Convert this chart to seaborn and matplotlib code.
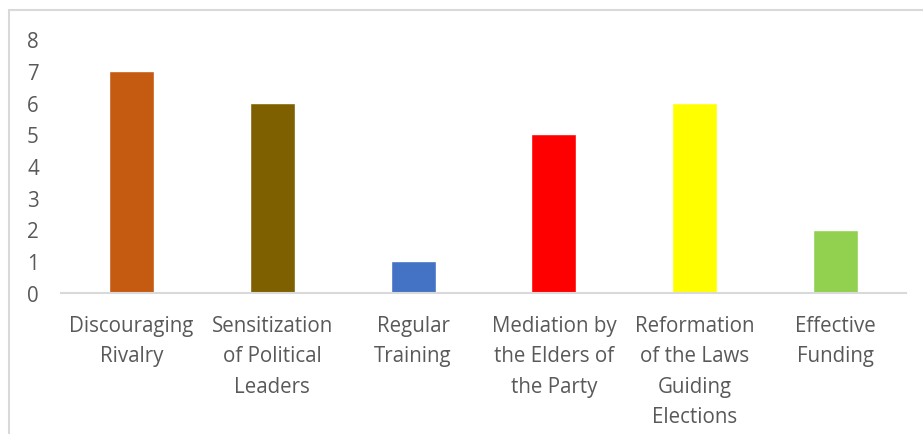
import matplotlib
matplotlib.use("Agg")
import matplotlib.pyplot as plt
import seaborn as sns
import pandas as pd
from matplotlib.patches import Rectangle

categories = ["Discouraging\nRivalry", "Sensitization\nof Political\nLeaders", "Regular\nTraining",
              "Mediation by\nthe Elders of\nthe Party", "Reformation\nof the Laws\nGuiding\nElections",
              "Effective\nFunding"]
values = [7, 6, 1, 5, 6, 2]
colors = ["#C55A11", "#7F6000", "#4472C4", "#FF0000", "#FFFF00", "#92D050"]
yticks = [0, 1, 2, 3, 4, 5, 6, 7, 8]

sns.set_style("white")
plt.rcParams['font.family'] = ['Open Sans', 'DejaVu Sans']

df = pd.DataFrame({"cat": categories, "val": values})
fig = plt.figure(figsize=(9.23, 4.35), dpi=100)
ax = fig.add_axes([61/923, 1-294/435, (906-61)/923, (294-40)/435])
sns.barplot(data=df, x="cat", y="val", hue="cat", palette=colors, width=0.32,
            legend=False, ax=ax, saturation=1)
ax.set_ylim(0, 8)
ax.set_xlim(-0.5, len(categories)-0.5)
ax.set_yticks(yticks)
ax.set_xlabel("")
ax.set_ylabel("")
for s in ["top", "right", "left"]:
    ax.spines[s].set_visible(False)
ax.spines["bottom"].set_color("#D9D9D9")
ax.spines["bottom"].set_linewidth(1.5)
ax.tick_params(axis="both", length=0, colors="#595959", labelsize=14.8)
ax.tick_params(axis="y", pad=16)
ax.tick_params(axis="x", pad=15.5)
for lab in ax.get_xticklabels():
    lab.set_linespacing(1.6)
    lab.set_va("top")

fig.patches.append(Rectangle((9/923, -0.1), 1.0, 1 - 11/435 + 0.1, transform=fig.transFigure,
                             fill=False, edgecolor="#D9D9D9", linewidth=1.5))
fig.savefig("out.png", dpi=100)
